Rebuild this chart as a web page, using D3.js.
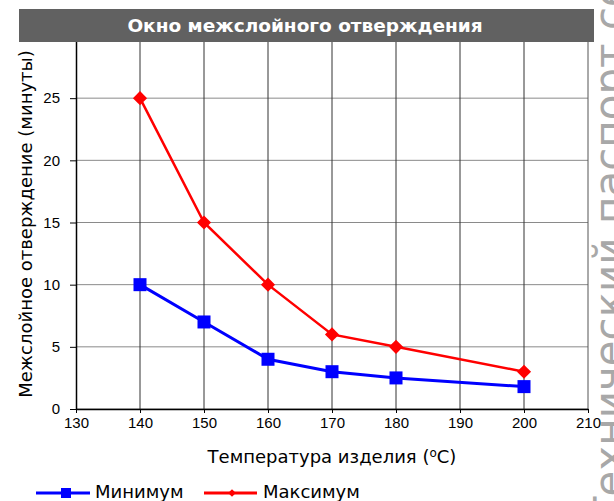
<!DOCTYPE html>
<html>
<head>
<meta charset="utf-8">
<script src="https://cdn.jsdelivr.net/npm/d3@7"></script>
<style>
  body { margin: 0; background: #fff; }
  svg { display: block; }
</style>
</head>
<body>
<svg id="chart"></svg>
<script>
const temps = [140, 150, 160, 170, 180, 200]
const minVals = [10, 7, 4, 3, 2.5, 1.8]
const maxVals = [25, 15, 10, 6, 5, 3]
const xTicks = [130, 140, 150, 160, 170, 180, 190, 200, 210]
const yTicks = [0, 5, 10, 15, 20, 25, 30]
const seriesNames = ["Минимум", "Максимум"]

const width = 614, height = 501
const margin = { top: 36, right: 26, bottom: 92, left: 76 }

const svg = d3.select("#chart")
    .attr("width", width)
    .attr("height", height)

const x = d3.scaleLinear()
    .domain([130, 210])
    .range([margin.left, width - margin.right])

const y = d3.scaleLinear()
    .domain([0, 30])
    .range([height - margin.bottom, margin.top])

// watermark on the right, mostly off the page
const wm = svg.append("text")
    .attr("font-family", "DejaVu Sans")
    .attr("font-size", 42)
    .attr("fill", "#a8a8a8")
    .text("Технический паспорт серии")
const wmShift = wm.node().getSubStringLength(0, 12)
wm.attr("transform", `translate(624,${224 + wmShift}) rotate(-90)`)

// grid
svg.append("g")
    .selectAll("line")
    .data(yTicks)
    .join("line")
    .attr("x1", x(130)).attr("x2", x(210))
    .attr("y1", d => y(d)).attr("y2", d => y(d))
    .attr("stroke", "#8a8a8a")

svg.append("g")
    .selectAll("line")
    .data(xTicks.slice(1))
    .join("line")
    .attr("x1", d => x(d)).attr("x2", d => x(d))
    .attr("y1", y(30)).attr("y2", y(0))
    .attr("stroke", d => d === 210 ? "#555" : "#333")

// axes
svg.append("g")
    .attr("transform", `translate(0,${y(0)})`)
    .call(d3.axisBottom(x).tickValues(xTicks).tickSize(4).tickSizeOuter(0).tickPadding(4))
    .call(g => g.select(".domain").attr("stroke", "#000").attr("stroke-width", 1.5))
    .call(g => g.selectAll("text")
        .attr("font-family", "Liberation Sans, Arial")
        .attr("font-size", 15)
        .attr("fill", "#000"))

svg.append("g")
    .attr("transform", `translate(${x(130)},0)`)
    .call(d3.axisLeft(y).tickValues(yTicks.slice(0, 6)).tickSize(6).tickSizeOuter(0).tickPadding(10))
    .call(g => g.select(".domain").attr("stroke", "#000").attr("stroke-width", 1.5))
    .call(g => g.selectAll("text")
        .attr("font-family", "Liberation Sans, Arial")
        .attr("font-size", 15)
        .attr("fill", "#000"))

// lines
const line = d3.line()
    .x(d => x(d[0]))
    .y(d => y(d[1]))

const minData = temps.map((t, i) => [t, minVals[i]])
const maxData = temps.map((t, i) => [t, maxVals[i]])

svg.append("path")
    .datum(minData)
    .attr("d", line)
    .attr("fill", "none")
    .attr("stroke", "#0000ff")
    .attr("stroke-width", 3)

svg.append("path")
    .datum(maxData)
    .attr("d", line)
    .attr("fill", "none")
    .attr("stroke", "#ff0000")
    .attr("stroke-width", 2.5)

const sq = 13
svg.append("g")
    .selectAll("rect")
    .data(minData)
    .join("rect")
    .attr("x", d => x(d[0]) - sq / 2)
    .attr("y", d => y(d[1]) - sq / 2)
    .attr("width", sq)
    .attr("height", sq)
    .attr("fill", "#0000ff")

svg.append("g")
    .selectAll("path")
    .data(maxData)
    .join("path")
    .attr("transform", d => `translate(${x(d[0])},${y(d[1])}) rotate(45)`)
    .attr("d", d3.symbol().type(d3.symbolSquare).size(100))
    .attr("fill", "#ff0000")

// title bar
svg.append("rect")
    .attr("x", 19).attr("y", 9)
    .attr("width", 575).attr("height", 33)
    .attr("fill", "#616161")

svg.append("text")
    .attr("x", 305).attr("y", 32)
    .attr("text-anchor", "middle")
    .attr("font-family", "DejaVu Sans")
    .attr("font-weight", "bold")
    .attr("font-size", 18.5)
    .attr("fill", "#fff")
    .text("Окно межслойного отверждения")

// axis titles
const xt = svg.append("text")
    .attr("x", (x(130) + x(210)) / 2)
    .attr("y", 463)
    .attr("text-anchor", "middle")
    .attr("font-family", "DejaVu Sans")
    .attr("font-size", 18)
    .attr("fill", "#000")
xt.append("tspan").text("Температура изделия (")
xt.append("tspan").attr("font-size", 12).attr("dy", -6).text("o")
xt.append("tspan").attr("dy", 6).text("C)")

svg.append("text")
    .attr("transform", "translate(32,224) rotate(-90)")
    .attr("text-anchor", "middle")
    .attr("font-family", "DejaVu Sans")
    .attr("font-size", 18)
    .attr("fill", "#000")
    .text("Межслойное отверждение (минуты)")

// legend
const legend = svg.append("g")
legend.append("line")
    .attr("x1", 36).attr("x2", 90).attr("y1", 493).attr("y2", 493)
    .attr("stroke", "#0000ff").attr("stroke-width", 3)
legend.append("rect")
    .attr("x", 61).attr("y", 488).attr("width", 10).attr("height", 10)
    .attr("fill", "#0000ff")
legend.append("text")
    .attr("x", 95).attr("y", 498)
    .attr("font-family", "DejaVu Sans").attr("font-size", 18)
    .text(seriesNames[0])

legend.append("line")
    .attr("x1", 204).attr("x2", 257).attr("y1", 493).attr("y2", 493)
    .attr("stroke", "#ff0000").attr("stroke-width", 3)
legend.append("path")
    .attr("transform", "translate(232,493) rotate(45)")
    .attr("d", d3.symbol().type(d3.symbolSquare).size(30))
    .attr("fill", "#ff0000")
legend.append("text")
    .attr("x", 263).attr("y", 498)
    .attr("font-family", "DejaVu Sans").attr("font-size", 18)
    .text(seriesNames[1])
</script>
</body>
</html>
